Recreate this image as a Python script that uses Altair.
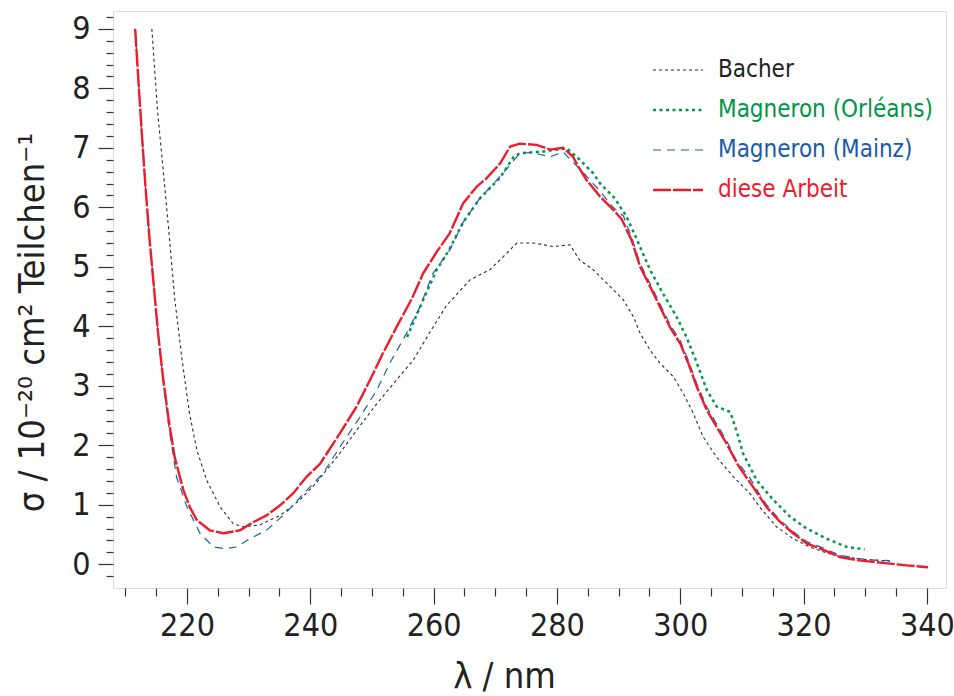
import altair as alt
import pandas as pd

# ---------------- data ----------------
bacher_x = [214.3, 215.2, 216.3, 217.2, 218.0, 219.2, 220.4, 221.6, 223.2, 225.4, 227.5, 229.1,
            231.8, 235.1, 238.3, 241.0, 244.3, 247.5, 250.8, 254.0, 256.7, 259.4, 262.1, 265.9,
            269.1, 271.3, 273.5, 276.2, 279.4, 282.1, 283.7, 285.9, 288.6, 290.8, 292.4, 293.5,
            295.1, 296.7, 298.9, 300.5, 302.1, 303.7, 305.9, 308.6, 311.3, 312.9, 315.6, 318.3,
            321.0, 324.0, 327.0, 330.0, 334.0]
bacher_y = [9.0, 7.65, 6.45, 5.43, 4.47, 3.44, 2.54, 1.92, 1.41, 0.96, 0.68, 0.63,
            0.66, 0.82, 1.08, 1.37, 1.80, 2.25, 2.70, 3.10, 3.43, 3.90, 4.35, 4.78,
            4.95, 5.17, 5.40, 5.40, 5.34, 5.37, 5.11, 4.95, 4.67, 4.44, 4.16, 3.88,
            3.60, 3.38, 3.15, 2.87, 2.54, 2.14, 1.80, 1.47, 1.19, 0.96, 0.63, 0.43,
            0.29, 0.18, 0.12, 0.08, 0.05]

orleans_x = [255.7, 258.3, 260.5, 262.6, 264.8, 267.5, 270.8, 273.0, 274.0, 277.8, 281.6, 283.7,
             285.9, 287.0, 289.4, 291.3, 293.0, 295.1, 297.2, 299.4, 301.0, 302.7, 304.3, 305.9,
             308.1, 309.1, 310.2, 312.4, 315.1, 317.8, 320.5, 323.7, 327.0, 329.9]
orleans_y = [3.82, 4.44, 4.95, 5.30, 5.75, 6.15, 6.50, 6.85, 6.91, 6.94, 6.99, 6.80,
             6.57, 6.40, 6.15, 5.84, 5.45, 4.95, 4.55, 4.16, 3.82, 3.38, 2.93, 2.65,
             2.56, 2.25, 1.86, 1.41, 1.08, 0.80, 0.60, 0.43, 0.29, 0.25]

mainz_x = [211.6, 212.2, 212.7, 213.3, 213.9, 214.6, 215.3, 216.1, 217.0, 218.3, 220.0, 222.1,
           224.3, 226.2, 228.1, 230.2, 232.9, 236.2, 239.4, 242.1, 244.8, 248.1, 250.8, 252.9,
           255.6, 257.8, 259.9, 262.6, 264.8, 267.5, 270.8, 274.0, 276.0, 278.9, 281.0, 283.0,
           285.0, 287.0, 289.1, 290.8, 292.1, 293.5, 295.1, 296.7, 298.3, 300.0, 301.3, 302.7,
           304.3, 305.9, 307.5, 309.1, 311.3, 312.9, 314.0, 316.2, 318.3, 320.5, 323.2, 325.9,
           328.6, 331.3, 334.0]
mainz_y = [9.0, 8.0, 7.2, 6.3, 5.5, 4.7, 3.9, 3.1, 2.35, 1.47, 0.96, 0.52,
           0.29, 0.26, 0.29, 0.43, 0.57, 0.88, 1.24, 1.53, 1.97, 2.48, 2.93, 3.38,
           3.88, 4.33, 4.89, 5.28, 5.75, 6.15, 6.52, 6.91, 6.92, 6.85, 6.93, 6.72,
           6.50, 6.27, 6.00, 5.85, 5.50, 5.05, 4.72, 4.38, 4.04, 3.76, 3.43, 3.03,
           2.64, 2.36, 2.08, 1.74, 1.45, 1.17, 1.00, 0.74, 0.55, 0.38, 0.27, 0.15,
           0.10, 0.07, 0.06]

arbeit_x = [211.6, 212.2, 212.7, 213.3, 213.9, 214.6, 215.3, 216.1, 217.0, 218.0, 219.4, 220.5,
            221.6, 223.7, 225.9, 228.6, 230.8, 232.9, 235.1, 237.2, 239.4, 241.6, 244.8, 247.5,
            249.7, 251.8, 254.0, 256.4, 258.3, 260.5, 262.6, 264.8, 267.0, 268.6, 270.8, 272.4,
            274.0, 276.7, 278.9, 281.0, 282.6, 283.5, 284.8, 287.0, 289.1, 290.5, 292.1, 293.5,
            295.1, 296.7, 298.3, 300.0, 301.3, 302.7, 304.3, 305.9, 307.5, 309.4, 311.8, 314.0,
            316.2, 318.3, 320.5, 323.2, 325.9, 328.6, 331.3, 334.0, 336.7, 340.2]
arbeit_y = [9.0, 8.0, 7.2, 6.3, 5.5, 4.7, 3.9, 3.15, 2.45, 1.8, 1.25, 0.95,
            0.74, 0.57, 0.52, 0.57, 0.71, 0.82, 0.99, 1.19, 1.47, 1.69, 2.2, 2.65,
            3.10, 3.55, 3.99, 4.45, 4.89, 5.25, 5.56, 6.07, 6.35, 6.49, 6.74, 7.02,
            7.07, 7.05, 6.97, 7.00, 6.85, 6.68, 6.46, 6.18, 5.96, 5.80, 5.45, 5.0,
            4.67, 4.33, 3.99, 3.71, 3.38, 2.98, 2.59, 2.31, 2.03, 1.66, 1.30, 0.96,
            0.71, 0.52, 0.35, 0.24, 0.12, 0.07, 0.04, 0.01, -0.02, -0.05]

series = ["Bacher", "Magneron (Orléans)", "Magneron (Mainz)", "diese Arbeit"]
colors = ["#2b2b2b", "#00994c", "#1f5fb0", "#ec1c2a"]
label_colors = ["#222222", "#009448", "#1a5aaa", "#ec1c2a"]
dashes = [[3, 3], [3, 3.5], [8, 6], [18, 2]]
widths = [1.1, 2.5, 1.2, 2.4]

x_ticks = list(range(210, 345, 5))
y_ticks = [round(-0.2 + 0.2 * i, 1) for i in range(48)]

rows = []
for name, xs, ys in [(series[0], bacher_x, bacher_y), (series[1], orleans_x, orleans_y),
                     (series[2], mainz_x, mainz_y), (series[3], arbeit_x, arbeit_y)]:
    for i, (a, b) in enumerate(zip(xs, ys)):
        rows.append({"quelle": name, "lam": a, "sigma": b, "i": i})
df = pd.DataFrame(rows)

FONT = "DejaVu Sans Condensed, DejaVu Sans, sans-serif"

label_expr = " : ".join(
    [f"datum.label == '{s}' ? '{c}'" for s, c in zip(series[:-1], label_colors[:-1])]
) + f" : '{label_colors[-1]}'"

chart = alt.Chart(df).mark_line(clip=True).encode(
    x=alt.X("lam:Q", scale=alt.Scale(domain=[208.0, 343.1], nice=False, zero=False),
            axis=alt.Axis(values=x_ticks, title="λ / nm",
                          labelExpr="datum.value % 20 === 0 ? datum.label : ''",
                          tickSize={"condition": {"test": "datum.value % 20 === 0", "value": 16}, "value": 8},
                          labelPadding=6, labelFontSize=32, labelFont=FONT, labelColor="#222",
                          titleFontSize=36, titleFont=FONT, titleFontWeight="normal", titleColor="#222",
                          titleX=391, titleY=99, titleBaseline="alphabetic", titleAlign="center",
                          domain=False, grid=False, tickColor="#333", tickWidth=1.2)),
    y=alt.Y("sigma:Q", scale=alt.Scale(domain=[-0.40, 9.30], nice=False, zero=False),
            axis=alt.Axis(values=y_ticks, title="σ / 10⁻²⁰ cm² Teilchen⁻¹",
                          labelExpr="abs(datum.value - round(datum.value)) < 0.01 ? format(datum.value, 'd') : ''",
                          tickSize={"condition": {"test": "abs(datum.value - round(datum.value)) < 0.01", "value": 15}, "value": 7},
                          labelPadding=8, labelFontSize=32, labelFont=FONT, labelColor="#222",
                          titleFontSize=36, titleFont=FONT, titleFontWeight="normal", titleColor="#222",
                          titleX=-70, titleY=311, titleBaseline="alphabetic", titleAngle=270,
                          titleAlign="center",
                          domain=False, grid=False, tickColor="#333", tickWidth=1.2)),
    color=alt.Color("quelle:N", scale=alt.Scale(domain=series, range=colors),
                    legend=alt.Legend(title=None, orient="none", legendX=553, legendY=47,
                                      symbolType="M-2.5,0H2.5", symbolSize=400,
                                      labelFontSize=24, labelFont=FONT, labelOffset=28,
                                      labelLimit=500,
                                      labelColor={"expr": label_expr},
                                      rowPadding=16, padding=0)),
    strokeDash=alt.StrokeDash("quelle:N", scale=alt.Scale(domain=series, range=dashes), legend=None),
    strokeWidth=alt.StrokeWidth("quelle:N",
                                scale=alt.Scale(type="ordinal", domain=series, range=widths),
                                legend=None),
    order="i:Q",
).properties(
    width=833, height=577,
    autosize=alt.AutoSizeParams(type="none"),
    padding={"left": 113, "top": 11, "right": 8, "bottom": 108},
).configure_view(
    stroke="#444", strokeWidth=1.5
).configure(background="white")

chart.save("out.html", embed_options={"renderer": "svg", "actions": False})
